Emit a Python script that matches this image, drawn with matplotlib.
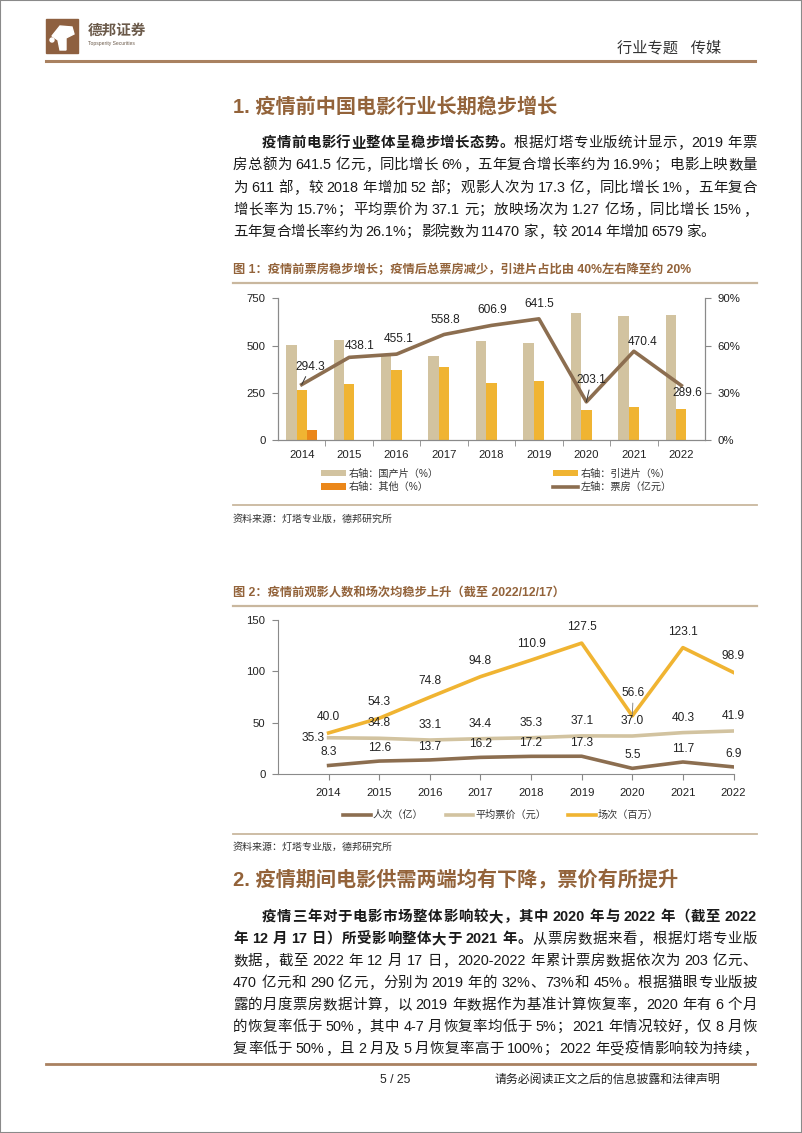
import re
import matplotlib
matplotlib.use('Agg')
import matplotlib.pyplot as plt
from matplotlib.patches import Rectangle, Polygon, Ellipse
from matplotlib.lines import Line2D

W, H = 802, 1133
FAM = ['Liberation Sans', 'Noto Sans CJK SC', 'DejaVu Sans']
plt.rcParams['font.family'] = FAM

# ---- data: chart 1 ----
years = ['2014', '2015', '2016', '2017', '2018', '2019', '2020', '2021', '2022']
domestic_pct = [60.4, 63.4, 54.1, 53.2, 63.0, 61.9, 80.5, 79.0, 79.6]
imported_pct = [32.1, 35.5, 44.4, 46.5, 36.5, 37.6, 19.2, 20.9, 20.1]
other_pct = [6.5, 0.4, 0.1, 0.1, 0.3, 0.1, 0.1, 0.1, 0.1]
box_office = [294.3, 438.1, 455.1, 558.8, 606.9, 641.5, 203.1, 470.4, 289.6]

# ---- data: chart 2 ----
admissions = [8.3, 12.6, 13.7, 16.2, 17.2, 17.3, 5.5, 11.7, 6.9]
avg_price = [35.3, 34.8, 33.1, 34.4, 35.3, 37.1, 37.0, 40.3, 41.9]
screenings = [40.0, 54.3, 74.8, 94.8, 110.9, 127.5, 56.6, 123.1, 98.9]

BROWN = '#8C6E50'
TAN = '#D2C3A0'
GOLD = '#F0B432'
ORANGE = '#EB8719'
HEAD = '#93633A'
RULE = '#C9B79E'
TXT = '#1a1a1a'


def fx(x):
    return x / W


def fy(y):
    return 1 - y / H


fig = plt.figure(figsize=(W / 100, H / 100), dpi=100)
renderer = fig.canvas.get_renderer()

# page frame
fig.add_artist(Rectangle((0, 0), 1, 1, transform=fig.transFigure, fill=False,
                         ec='#8a8a8a', lw=1.5))


def hline(y, x0, x1, color, lw):
    fig.add_artist(Line2D([fx(x0), fx(x1)], [fy(y), fy(y)], color=color, lw=lw))


def put_line(y, x0, x1, parts, size, justify=True):
    # lay out one line of mixed text, spreading tokens to fill x0..x1
    toks = []
    for txt, bold in parts:
        for m in re.finditer(r'[0-9A-Za-z.%/\-]+| |.', txt):
            toks.append((m.group(), bold))
    px = size * 100 / 72
    widths = []
    for t, b in toks:
        if t == ' ':
            widths.append(px * 0.22)
            continue
        tt = fig.text(0, 0, t, fontsize=size, fontweight='bold' if b else 'normal')
        widths.append(tt.get_window_extent(renderer).width)
        tt.remove()
    extra = 0
    if justify and len(toks) > 1:
        extra = (x1 - x0 - sum(widths)) / (len(toks) - 1)
    x = x0
    for (t, b), w in zip(toks, widths):
        if t != ' ':
            fig.text(fx(x), fy(y), t, fontsize=size, color=TXT, va='center', ha='left',
                     fontweight='bold' if b else 'normal')
        x += w + extra


# ---- header ----
fig.add_artist(Rectangle((fx(46), fy(53)), fx(78) - fx(46), fy(19) - fy(53),
                         transform=fig.transFigure, color='#8E6040'))
fig.add_artist(Polygon([(fx(52), fy(36)), (fx(60), fy(26)), (fx(72), fy(27)),
                        (fx(74), fy(34)), (fx(66), fy(38)), (fx(66), fy(50)),
                        (fx(60), fy(50)), (fx(58), fy(40))],
                       closed=True, transform=fig.transFigure, color='white'))
fig.add_artist(Ellipse((fx(52), fy(40)), 4 / W, 4 / H, transform=fig.transFigure,
                       color='white'))
fig.text(fx(88), fy(31), '德邦证券', fontsize=10.5, fontweight='bold', color='#6b5a4a',
         va='center')
fig.text(fx(88), fy(43), 'Topsperity Securities', fontsize=3.6, color='#6b5a4a',
         va='center')
fig.text(fx(721), fy(48), '行业专题   传媒', fontsize=11, color='#333333', va='center',
         ha='right')
hline(61, 46, 755, '#A98160', 2.2)

# ---- section 1 ----
fig.text(fx(233), fy(107), '1. 疫情前中国电影行业长期稳步增长', fontsize=14.5,
         fontweight='bold', color=HEAD, va='center')

SZ = 10.4
put_line(143, 262, 757, [('疫情前电影行业整体呈稳步增长态势。', True),
                         ('根据灯塔专业版统计显示，2019 年票', False)], SZ)
put_line(165, 233, 757, [('房总额为 641.5 亿元，同比增长 6%，五年复合增长率约为 16.9%；电影上映数量', False)], SZ)
put_line(188, 233, 757, [('为 611 部，较 2018 年增加 52 部；观影人次为 17.3 亿，同比增长 1%，五年复合', False)], SZ)
put_line(210, 233, 757, [('增长率为 15.7%；平均票价为 37.1 元；放映场次为 1.27 亿场，同比增长 15%，', False)], SZ)
put_line(232, 233, 757, [('五年复合增长率约为 26.1%；影院数为 11470 家，较 2014 年增加 6579 家。', False)],
         SZ, justify=False)

# ---- chart 1 ----
fig.text(fx(233), fy(270), '图 1：疫情前票房稳步增长；疫情后总票房减少，引进片占比由 40%左右降至约 20%',
         fontsize=8.8, fontweight='bold', color=HEAD, va='center')
hline(283, 233, 757, RULE, 1.6)

ax = fig.add_axes([fx(278), fy(440.3), (705 - 278) / W, (440.3 - 298.3) / H])
xs = list(range(len(years)))
bw = 0.22
b1 = ax.bar([x - bw for x in xs], domestic_pct, bw, color=TAN, label='右轴：国产片（%）')
b2 = ax.bar(xs, imported_pct, bw, color=GOLD, label='右轴：引进片（%）')
b3 = ax.bar([x + bw for x in xs], other_pct, bw, color=ORANGE, label='右轴：其他（%）')
ax.set_xlim(-0.5, len(years) - 0.5)
ax.set_ylim(0, 90)
ax.set_xticks(xs)
ax.set_xticklabels(years)
ax.set_xticks([x + 0.5 for x in xs[:-1]], minor=True)
ax.tick_params(axis='x', which='major', length=0, pad=7, labelsize=8.2, labelcolor='#222')
ax.tick_params(axis='x', which='minor', length=4, color='#888', direction='out')
ax.spines['top'].set_visible(False)
for s in ['left', 'right', 'bottom']:
    ax.spines[s].set_color('#8a8a8a')

axl = ax.twinx()
ln, = axl.plot(xs, box_office, color=BROWN, lw=2.6, label='左轴：票房（亿元）')
axl.set_ylim(0, 750)
axl.spines['top'].set_visible(False)
for s in ['left', 'right', 'bottom']:
    axl.spines[s].set_color('#8a8a8a')

# percentages on the right, box office on the left
ax.yaxis.tick_right()
ax.set_yticks([0, 30, 60, 90])
ax.set_yticklabels(['0%', '30%', '60%', '90%'])
ax.tick_params(axis='y', which='both', left=False, labelleft=False, right=True,
               labelright=True, length=4, color='#888', labelsize=8.2,
               labelcolor='#222', pad=5)
axl.yaxis.tick_left()
axl.set_yticks([0, 250, 500, 750])
axl.tick_params(axis='y', which='both', right=False, labelright=False, left=True,
                labelleft=True, length=4, color='#888', labelsize=8.2,
                labelcolor='#222', pad=5)

off1 = [(9, 18), (10, 11), (2, 15), (1, 15), (1, 15), (0, 15), (5, 22), (9, 9), (6, -8)]
leader1 = [True, False, False, False, False, False, True, False, False]
for x, v, (dx, dy), ld in zip(xs, box_office, off1, leader1):
    kw = {}
    if ld:
        kw['arrowprops'] = dict(arrowstyle='-', lw=0.7, color='#333', shrinkA=1, shrinkB=0)
    axl.annotate(f'{v:.1f}', (x, v), xytext=(dx, dy), textcoords='offset pixels',
                 ha='center', va='center', fontsize=8.6, color='#222', **kw)

leg1 = fig.legend(handles=[b1, b3, b2, ln], loc='center left',
                  bbox_to_anchor=(fx(321), fy(480.5)), ncol=2, frameon=False,
                  fontsize=7.3, handlelength=2.5, handleheight=0.55, handletextpad=0.2,
                  columnspacing=11.3, labelspacing=0.3, borderaxespad=0, borderpad=0)
for t in leg1.get_texts():
    t.set_color('#333')

hline(505, 233, 757, RULE, 1.3)
fig.text(fx(233), fy(519), '资料来源：灯塔专业版，德邦研究所', fontsize=7.2, color='#333', va='center')

# ---- chart 2 ----
fig.text(fx(233), fy(593), '图 2：疫情前观影人数和场次均稳步上升（截至 2022/12/17）',
         fontsize=8.8, fontweight='bold', color=HEAD, va='center')
hline(606, 233, 757, RULE, 1.6)

ax2 = fig.add_axes([fx(278), fy(774), (733.5 - 278) / W, (774 - 620) / H])
l1, = ax2.plot(xs, admissions, color=BROWN, lw=2.6, label='人次（亿）')
l2, = ax2.plot(xs, avg_price, color=TAN, lw=2.6, label='平均票价（元）')
l3, = ax2.plot(xs, screenings, color=GOLD, lw=2.6, label='场次（百万）')
ax2.set_xlim(-1, len(years) - 1)
ax2.set_ylim(0, 150)
ax2.set_yticks([0, 50, 100, 150])
ax2.set_xticks(xs)
ax2.set_xticklabels(years)
ax2.tick_params(axis='x', length=4, color='#888', pad=6, labelsize=8.2, labelcolor='#222')
ax2.tick_params(axis='y', length=4, color='#888', pad=5, labelsize=8.2, labelcolor='#222')
ax2.spines['top'].set_visible(False)
ax2.spines['right'].set_visible(False)
for s in ['left', 'bottom']:
    ax2.spines[s].set_color('#8a8a8a')

for x, v in zip(xs, admissions):
    ax2.annotate(f'{v:.1f}', (x, v), xytext=(0, 13), textcoords='offset pixels',
                 ha='center', va='center', fontsize=8.6, color='#222')
for x, v in zip(xs, avg_price):
    if x == 0:
        ax2.annotate(f'{v:.1f}', (x, v), xytext=(-4, 0), textcoords='offset pixels',
                     ha='right', va='center', fontsize=8.6, color='#222')
    else:
        ax2.annotate(f'{v:.1f}', (x, v), xytext=(0, 15), textcoords='offset pixels',
                     ha='center', va='center', fontsize=8.6, color='#222')
for x, v in zip(xs, screenings):
    if x == 6:
        ax2.annotate(f'{v:.1f}', (x, v), xytext=(1, 23), textcoords='offset pixels',
                     ha='center', va='center', fontsize=8.6, color='#222',
                     arrowprops=dict(arrowstyle='-', lw=0.6, color='#777', shrinkA=1, shrinkB=1))
    else:
        ax2.annotate(f'{v:.1f}', (x, v), xytext=(0, 16), textcoords='offset pixels',
                     ha='center', va='center', fontsize=8.6, color='#222')

leg2 = fig.legend(handles=[l1, l2, l3], loc='center', bbox_to_anchor=(fx(501), fy(815)),
                  ncol=3, frameon=False, fontsize=7.3, handlelength=2.7,
                  handletextpad=0.2, columnspacing=2.2, borderaxespad=0, borderpad=0)
for t in leg2.get_texts():
    t.set_color('#333')

hline(834, 233, 757, RULE, 1.3)
fig.text(fx(233), fy(847), '资料来源：灯塔专业版，德邦研究所', fontsize=7.2, color='#333', va='center')

# ---- section 2 ----
fig.text(fx(233), fy(880), '2. 疫情期间电影供需两端均有下降，票价有所提升', fontsize=14.5,
         fontweight='bold', color=HEAD, va='center')

put_line(917, 262, 757, [('疫情三年对于电影市场整体影响较大，其中 2020 年与 2022 年（截至 2022', True)], SZ)
put_line(939, 233, 757, [('年 12 月 17 日）所受影响整体大于 2021 年。', True),
                         ('从票房数据来看，根据灯塔专业版', False)], SZ)
put_line(961, 233, 757, [('数据，截至 2022 年 12 月 17 日，2020-2022 年累计票房数据依次为 203 亿元、', False)], SZ)
put_line(983, 233, 757, [('470 亿元和 290 亿元，分别为 2019 年的 32%、73%和 45%。根据猫眼专业版披', False)], SZ)
put_line(1005, 233, 757, [('露的月度票房数据计算，以 2019 年数据作为基准计算恢复率，2020 年有 6 个月', False)], SZ)
put_line(1027, 233, 757, [('的恢复率低于 50%，其中 4-7 月恢复率均低于 5%；2021 年情况较好，仅 8 月恢', False)], SZ)
put_line(1049, 233, 757, [('复率低于 50%，且 2 月及 5 月恢复率高于 100%；2022 年受疫情影响较为持续，', False)], SZ)

# ---- footer ----
hline(1064, 46, 755, '#A98160', 2.0)
fig.text(fx(395), fy(1080), '5 / 25', fontsize=8.8, color='#222', va='center', ha='center')
fig.text(fx(720), fy(1080), '请务必阅读正文之后的信息披露和法律声明', fontsize=8.6, color='#222',
         va='center', ha='right')

fig.savefig('out.png', dpi=100)
